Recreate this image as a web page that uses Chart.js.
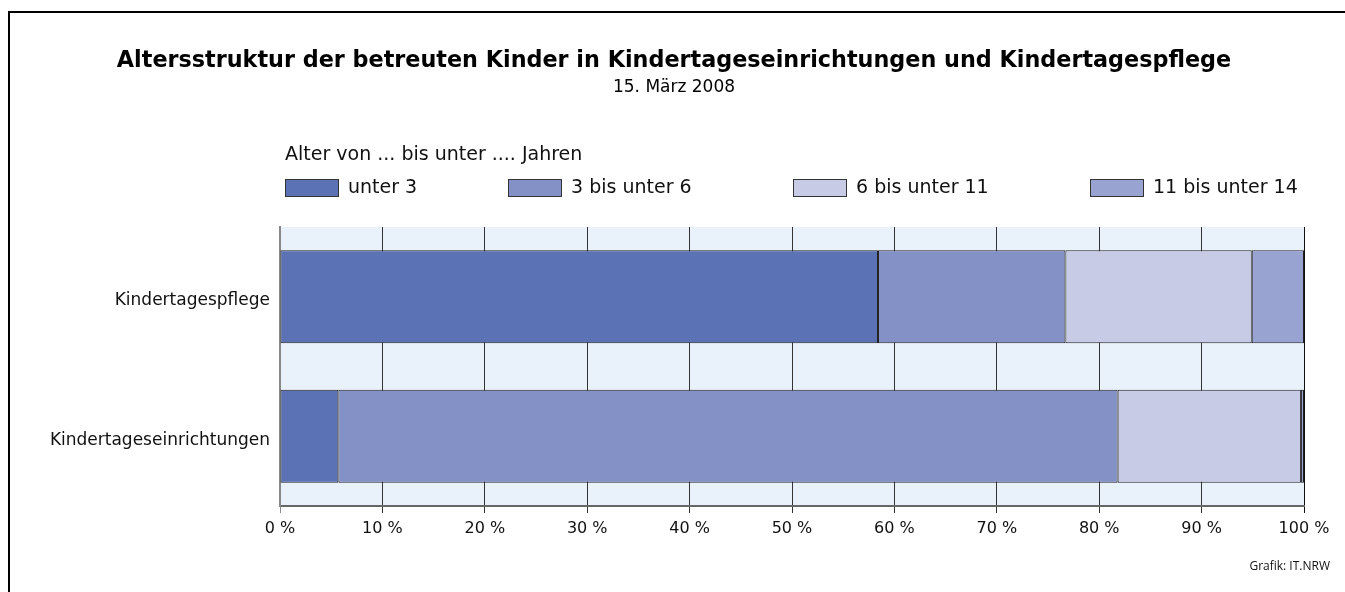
<!DOCTYPE html>
<html lang="de">
<head>
    <meta charset="UTF-8">
    <title>Altersstruktur der betreuten Kinder</title>
    <script src="https://cdn.jsdelivr.net/npm/chart.js"></script>
    <style>
        body {
            margin: 0;
            background: #fff;
            overflow: hidden;
        }
        .frame {
            position: absolute;
            left: 8px;
            top: 11px;
            width: 1400px;
            height: 700px;
            border-left: 2px solid #000;
            border-top: 2px solid #000;
        }
        .chart-box {
            position: absolute;
            left: 0;
            top: 0;
            width: 1345px;
            height: 592px;
        }
    </style>
</head>
<body>
    <div class="frame"></div>
    <div class="chart-box">
        <canvas id="ageChart"></canvas>
    </div>

    <script>
        // Data (shares in %)
        const categories = ['Kindertagespflege', 'Kindertageseinrichtungen'];
        const ageGroups = ['unter 3', '3 bis unter 6', '6 bis unter 11', '11 bis unter 14'];
        const under3 = [58.4, 5.7];
        const from3to6 = [18.3, 76.1];
        const from6to11 = [18.2, 17.9];
        const from11to14 = [5.1, 0.3];
        const xTickValues = [0, 10, 20, 30, 40, 50, 60, 70, 80, 90, 100];

        const colors = ['#5b72b4', '#8491c7', '#c8cbe5', '#99a3d1'];
        const fontFamily = "'DejaVu Sans', sans-serif";

        // light blue plot background
        const plotBackground = {
            id: 'plotBackground',
            beforeDraw(chart) {
                const { ctx, chartArea } = chart;
                ctx.save();
                ctx.fillStyle = '#e9f1fa';
                ctx.fillRect(chartArea.left, chartArea.top, chartArea.right - chartArea.left, chartArea.bottom - chartArea.top);
                ctx.restore();
            }
        };

        // legend laid out like the original (title line + four items in a row)
        const customLegend = {
            id: 'customLegend',
            afterDraw(chart) {
                const { ctx } = chart;
                const itemX = [285, 508, 793, 1090];
                ctx.save();
                ctx.font = '19px ' + fontFamily;
                ctx.fillStyle = '#111';
                ctx.textBaseline = 'middle';
                ctx.textAlign = 'left';
                ctx.fillText('Alter von ... bis unter .... Jahren', 285, 155);
                chart.data.datasets.forEach((ds, i) => {
                    ctx.fillStyle = ds.backgroundColor;
                    ctx.fillRect(itemX[i], 179, 53, 17);
                    ctx.strokeStyle = '#333';
                    ctx.lineWidth = 1;
                    ctx.strokeRect(itemX[i] + 0.5, 179.5, 53, 17);
                    ctx.fillStyle = '#111';
                    ctx.fillText(ds.label, itemX[i] + 63, 188);
                });
                // source note
                ctx.font = "12px 'Open Sans', sans-serif";
                ctx.textAlign = 'right';
                ctx.fillText('Grafik: IT.NRW', 1330, 567);
                ctx.restore();
            }
        };

        const ctx = document.getElementById('ageChart').getContext('2d');
        new Chart(ctx, {
            type: 'bar',
            data: {
                labels: categories,
                datasets: [
                    { label: ageGroups[0], data: under3, backgroundColor: colors[0] },
                    { label: ageGroups[1], data: from3to6, backgroundColor: colors[1] },
                    { label: ageGroups[2], data: from6to11, backgroundColor: colors[2] },
                    { label: ageGroups[3], data: from11to14, backgroundColor: colors[3] }
                ].map(ds => Object.assign(ds, {
                    borderColor: '#222',
                    borderWidth: 1,
                    borderSkipped: false,
                    barPercentage: 1,
                    categoryPercentage: 0.667
                }))
            },
            options: {
                indexAxis: 'y',
                responsive: true,
                maintainAspectRatio: false,
                animation: false,
                layout: {
                    padding: { left: 44, right: 41, top: 0, bottom: 0 }
                },
                plugins: {
                    legend: { display: false },
                    tooltip: { enabled: false },
                    title: {
                        display: true,
                        text: 'Altersstruktur der betreuten Kinder in Kindertageseinrichtungen und Kindertagespflege',
                        color: '#000',
                        font: { family: fontFamily, size: 22.3, weight: 'bold', lineHeight: 1.2 },
                        padding: { top: 47.6, bottom: 0 }
                    },
                    subtitle: {
                        display: true,
                        text: '15. März 2008',
                        color: '#000',
                        font: { family: fontFamily, size: 17, lineHeight: 1.2 },
                        padding: { top: 3.4, bottom: 128.8 }
                    }
                },
                scales: {
                    x: {
                        stacked: true,
                        min: 0,
                        max: 100,
                        afterFit(scale) { scale.height = 86; },
                        afterBuildTicks(scale) {
                            scale.ticks = xTickValues.map(v => ({ value: v }));
                        },
                        ticks: {
                            color: '#111',
                            font: { family: fontFamily, size: 16 },
                            padding: 6,
                            callback: v => v + ' %'
                        },
                        grid: {
                            color: c => c.index === 0 ? '#888' : (c.index === 10 ? '#111' : '#333'),
                            lineWidth: 1,
                            tickLength: 7,
                            drawTicks: true
                        },
                        border: { display: true, color: '#666', width: 2 }
                    },
                    y: {
                        stacked: true,
                        afterFit(scale) { scale.width = 236; },
                        ticks: {
                            color: '#111',
                            font: { family: fontFamily, size: 17 },
                            padding: 10,
                            labelOffset: 4
                        },
                        grid: { display: false, drawTicks: false },
                        border: { display: true, color: '#888', width: 2 }
                    }
                }
            },
            plugins: [plotBackground, customLegend]
        });
    </script>
</body>
</html>
